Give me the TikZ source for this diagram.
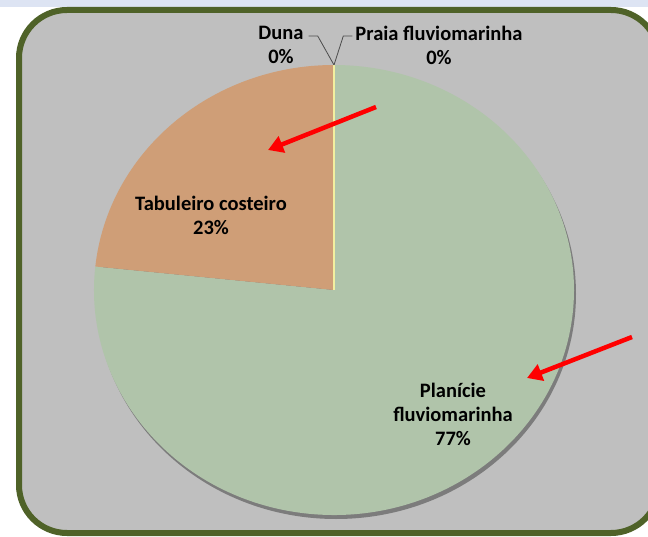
\documentclass[tikz,border=0pt]{standalone}
\usepackage{fontspec}
\setmainfont{Carlito}
\usetikzlibrary{arrows.meta,positioning}
\definecolor{framegreen}{HTML}{4F6228}
\definecolor{panelgray}{HTML}{BFBFBF}
\definecolor{topstrip}{HTML}{DDE4F3}
\definecolor{planiciegreen}{HTML}{B0C4AA}
\definecolor{tabuleirotan}{HTML}{CF9E77}
\definecolor{dunayellow}{HTML}{F2EFA0}

\begin{document}
\begin{tikzpicture}[x=1pt,y=1pt,
  lbl/.style={align=center,font=\fontsize{20.5}{24}\selectfont\bfseries,text=black,inner sep=0pt},
  leader/.style={black!70,line width=0.8pt},
  redarrow/.style={red,line width=4.5pt,-{Triangle[length=15pt,width=17pt]}}]
\useasboundingbox (0,0) rectangle (648,536);
% Background and frame
\fill[white] (0,0) rectangle (648,536);
\fill[topstrip] (0,529) rectangle (648,536);
\draw[framegreen,fill=panelgray,line width=6pt,rounded corners=48pt] (19,3) rectangle (659,526);
% Pie shadow
\fill[black,opacity=0.35] (336,242) ellipse [x radius=240, y radius=225];
% Slices
\coordinate (c) at (334,246);
\fill[planiciegreen] (c) -- ++(174:240 and 225) arc[start angle=174, end angle=450, x radius=240, y radius=225] -- cycle;
\fill[tabuleirotan] (c) -- ++(90:240 and 225) arc[start angle=90, end angle=174, x radius=240, y radius=225] -- cycle;
\coordinate (top) at (334,471);
\draw[dunayellow,line width=2pt] (c) -- (top);
% Labels
\node[lbl] (duna) at (281,491) {Duna\\0\%};
\node[lbl] (praia) at (439,491) {Praia fluviomarinha\\0\%};
\node[lbl] (tabuleiro) at (211,321) {Tabuleiro costeiro\\23\%};
\node[lbl] (planicie) at (453,122) {Planície\\fluviomarinha\\77\%};
% Leader lines
\coordinate (ly) at (0,500);
\draw[leader] (duna.north east |- ly) ++(5,0) -- ++(9,0) -- (top);
\draw[leader] (praia.north west |- ly) ++(-3,0) -- ++(-9,0) -- (top);
% Red arrows
\coordinate (tabtail) at (376,429);
\coordinate (tabhead) at (268,386);
\coordinate (plantail) at (632,199);
\coordinate (planhead) at (527,158);
\draw[redarrow] (tabtail) -- (tabhead);
\draw[redarrow] (plantail) -- (planhead);
\end{tikzpicture}
\end{document}
